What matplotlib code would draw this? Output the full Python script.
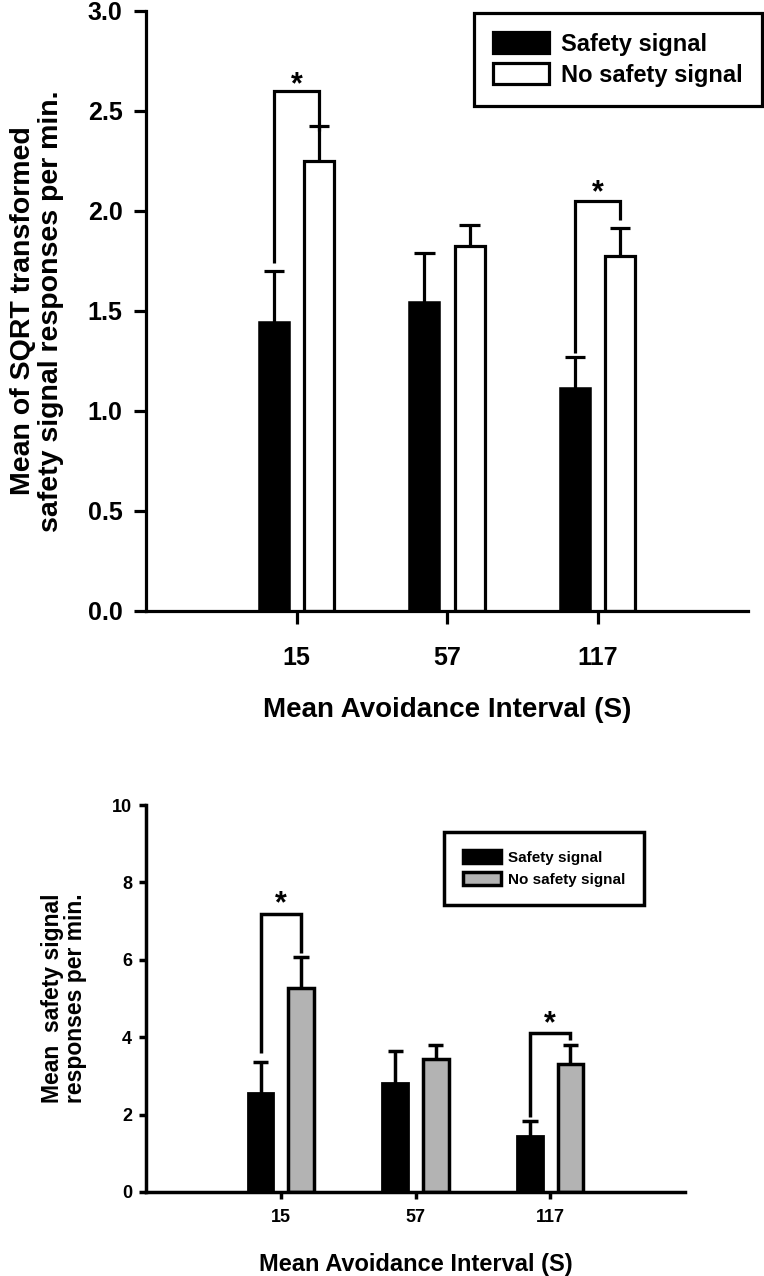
import numpy as np
import matplotlib
matplotlib.use("Agg")
import matplotlib.pyplot as plt
from matplotlib.patches import Patch

# data
intervals = ["15", "57", "117"]

# top panel: SQRT transformed responses
sqrt_safety = [1.445, 1.545, 1.115]
sqrt_safety_err = [0.255, 0.245, 0.155]
sqrt_nosafety = [2.25, 1.825, 1.775]
sqrt_nosafety_err = [0.175, 0.105, 0.14]
# significance brackets: group index, bracket height, left leg end, right leg end, star baseline
sqrt_sig_group = [0, 2]
sqrt_sig_height = [2.60, 2.05]
sqrt_sig_left = [1.74, 1.29]
sqrt_sig_right = [2.40, 1.955]
sqrt_star = [2.59, 2.05]

# bottom panel: raw responses per min
raw_safety = [2.56, 2.81, 1.45]
raw_safety_err = [0.80, 0.83, 0.38]
raw_nosafety = [5.27, 3.43, 3.31]
raw_nosafety_err = [0.80, 0.37, 0.49]
raw_sig_group = [0, 2]
raw_sig_height = [7.18, 4.11]
raw_sig_left = [3.59, 1.94]
raw_sig_right = [6.18, 3.93]
raw_star = [7.22, 4.12]

bold = {'family': 'Liberation Sans', 'weight': 'bold'}

fig = plt.figure(figsize=(7.64, 12.76), dpi=100)


def panel(ax, s, se, ns, nse, sig, stars, ymax, yticks, ylabels, second_color,
          width, cap, lw, tick_size, tick_len, xpad, ypad, ylabel, ylabel_size,
          ylabel_x, linesp, xlabel_size, xlabel_y, star_size, leg_kw):
    x = np.arange(1, len(intervals) + 1)
    off = 0.15
    ax.bar(x - off, s, width, color='black', edgecolor='black', linewidth=lw * 0.8, zorder=2)
    ax.bar(x + off, ns, width, color=second_color, edgecolor='black', linewidth=lw, zorder=2)
    # upward-only error bars
    for xs, v, e in [(x - off, s, se), (x + off, ns, nse)]:
        v = np.array(v)
        e = np.array(e)
        ax.vlines(xs, v, v + e, color='black', lw=lw, zorder=1)
        ax.hlines(v + e, xs - cap, xs + cap, color='black', lw=lw, zorder=1)
    groups, heights, lefts, rights = sig
    for g, h, lo_l, lo_r, st in zip(groups, heights, lefts, rights, stars):
        xl = x[g] - off
        xr = x[g] + off
        ax.plot([xl, xl, xr, xr], [lo_l, h, h, lo_r], color='black', lw=lw,
                solid_joinstyle='miter', solid_capstyle='butt', zorder=3)
        ax.text(x[g], st, '*', ha='center', va='baseline', fontsize=star_size, **bold)

    ax.set_xlim(0, 4)
    ax.set_ylim(0, ymax)
    ax.set_xticks(x)
    ax.set_xticklabels(intervals, fontsize=tick_size, **bold)
    ax.set_yticks(yticks)
    ax.set_yticklabels(ylabels, fontsize=tick_size, **bold)
    for sp in ['top', 'right']:
        ax.spines[sp].set_visible(False)
    for sp in ['left', 'bottom']:
        ax.spines[sp].set_linewidth(lw)
        ax.spines[sp].set_capstyle('projecting')
    ax.tick_params(axis='both', direction='out', length=tick_len, width=lw)
    ax.tick_params(axis='x', pad=xpad)
    ax.tick_params(axis='y', pad=ypad)
    ax.set_ylabel(ylabel, fontsize=ylabel_size, linespacing=linesp, **bold)
    ax.yaxis.set_label_coords(ylabel_x, 0.5)
    ax.set_xlabel('Mean Avoidance Interval (S)', fontsize=xlabel_size, **bold)
    ax.xaxis.set_label_coords(0.5, xlabel_y)

    handles = [Patch(facecolor='black', edgecolor='black', linewidth=lw),
               Patch(facecolor=second_color, edgecolor='black', linewidth=lw)]
    leg = ax.legend(handles, ['Safety signal', 'No safety signal'], fancybox=False,
                    edgecolor='black', framealpha=1, loc='upper right',
                    borderaxespad=0, **leg_kw)
    leg.get_frame().set_linewidth(lw)


ax1 = fig.add_axes([146 / 764, 1 - 611 / 1276, 602 / 764, 600 / 1276])
panel(ax1, sqrt_safety, sqrt_safety_err, sqrt_nosafety, sqrt_nosafety_err,
      (sqrt_sig_group, sqrt_sig_height, sqrt_sig_left, sqrt_sig_right), sqrt_star,
      3.0, [0, 0.5, 1.0, 1.5, 2.0, 2.5, 3.0],
      ['0.0', '0.5', '1.0', '1.5', '2.0', '2.5', '3.0'], 'white',
      0.2, 0.067, 2.3, 18, 9, 16, 8,
      'Mean of SQRT transformed\nsafety signal responses per min.', 20.5, -0.136, 1.12,
      20, -0.143, 22,
      dict(bbox_to_anchor=(1.023, 0.997), prop=dict(size=17, **bold),
           handlelength=2.37, handleheight=0.97, borderpad=0.82, labelspacing=0.32,
           handletextpad=0.5))

ax2 = fig.add_axes([146 / 764, 1 - 1192 / 1276, 539 / 764, 387 / 1276])
panel(ax2, raw_safety, raw_safety_err, raw_nosafety, raw_nosafety_err,
      (raw_sig_group, raw_sig_height, raw_sig_left, raw_sig_right), raw_star,
      10, [0, 2, 4, 6, 8, 10], ['0', '2', '4', '6', '8', '10'], '#b3b3b3',
      0.19, 0.056, 2.5, 13, 5, 7, 5,
      'Mean  safety signal\nresponses per min.', 16.5, -0.11, 1.0,
      17, -0.158, 22,
      dict(bbox_to_anchor=(0.924, 0.930), prop=dict(size=11, **bold),
           handlelength=2.48, handleheight=0.85, borderpad=1.2, labelspacing=0.5,
           handletextpad=0.5))

fig.savefig('out.png', dpi=100)
